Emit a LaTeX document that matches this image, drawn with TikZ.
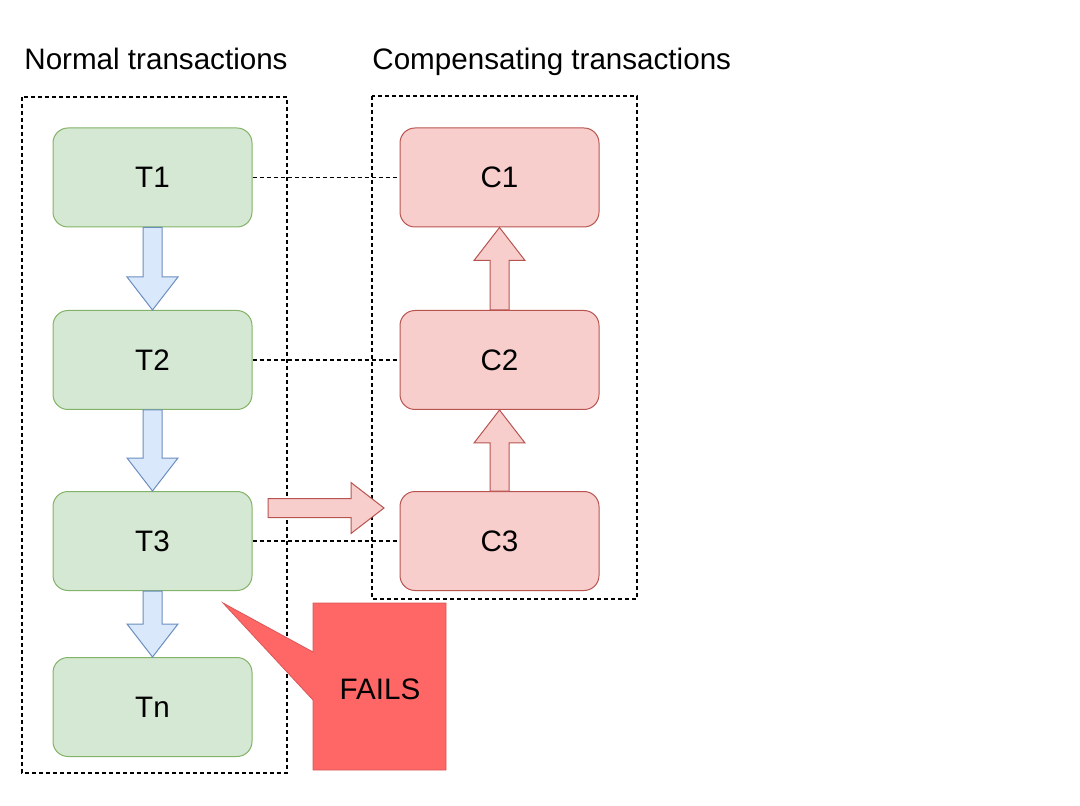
\documentclass[tikz,border=0pt]{standalone}
\usepackage{fontspec}
\setmainfont{Liberation Sans}
\usetikzlibrary{calc}
\definecolor{tfill}{HTML}{D5E8D4}
\definecolor{tline}{HTML}{82B366}
\definecolor{cfill}{HTML}{F8CECC}
\definecolor{cline}{HTML}{B85450}
\definecolor{afill}{HTML}{DAE8FC}
\definecolor{aline}{HTML}{6C8EBF}
\definecolor{failfill}{HTML}{FF6666}
\tikzset{
  tbox/.style={draw=tline, fill=tfill, rounded corners=7.5pt, line width=0.5pt,
    minimum width=99.5pt, minimum height=49.5pt, font=\fontsize{14.8}{17}\selectfont,
    text depth=0pt, text height=10.5pt, yshift=-0pt},
  cbox/.style={tbox, draw=cline, fill=cfill},
  title/.style={anchor=base west, inner sep=0pt, font=\fontsize{14.8}{17}\selectfont},
  groupbox/.style={draw, line width=0.6pt, dash pattern=on 2pt off 1.5pt},
  link/.style={groupbox},
  bluearrow/.style={draw=aline, fill=afill, line width=0.5pt, line join=miter},
  redarrow/.style={draw=cline, fill=cfill, line width=0.5pt, line join=miter}
}
% block arrow: style, from, to
\newcommand\blockarrow[3]{%
  \draw[#1] ($(#2)!4.75pt!90:(#3)$) -- ($($(#3)!16.5pt!(#2)$)!4.75pt!-90:(#2)$)
    -- ($($(#3)!16.5pt!(#2)$)!12.75pt!-90:(#2)$) -- (#3)
    -- ($($(#3)!16.5pt!(#2)$)!12.75pt!90:(#2)$)
    -- ($($(#3)!16.5pt!(#2)$)!4.75pt!90:(#2)$)
    -- ($(#2)!4.75pt!-90:(#3)$) -- cycle;}
\begin{document}
\begin{tikzpicture}[x=0.5pt, y=-0.5pt]
    \useasboundingbox (0,0) rectangle (1080,806);
    \node[title] (normal) at (24,70) {Normal transactions};
    \node[title] (comp) at (372,70) {Compensating transactions};
    \draw[groupbox] (22,97) rectangle (287,773);
    \draw[groupbox] (372,96) rectangle (637,599);

    \node[tbox] (t1) at (152.5,177.5) {T1};
    \node[tbox] (t2) at (152.5,360) {T2};
    \node[tbox] (t3) at (152.5,541) {T3};
    \node[tbox] (tn) at (152.5,707) {Tn};
    \node[cbox] (c1) at (499.5,177.5) {C1};
    \node[cbox] (c2) at (499.5,360) {C2};
    \node[cbox] (c3) at (499.5,541) {C3};

    \draw[link] (t1) -- (c1);
    \draw[link] (t2) -- (c2);
    \draw[link] (t3) -- (c3);

    \blockarrow{bluearrow}{t1.south}{t2.north}
    \blockarrow{bluearrow}{t2.south}{t3.north}
    \blockarrow{bluearrow}{t3.south}{tn.north}
    \blockarrow{redarrow}{c3.north}{c2.south}
    \blockarrow{redarrow}{c2.north}{c1.south}
    \coordinate (fromT) at (268,508);
    \coordinate (toC) at (384,508);
    \blockarrow{redarrow}{fromT}{toC}

    % callout
    \coordinate (tip) at (223,603);
    \draw[fill=failfill, draw=failfill!85!black, line width=0.4pt]
      (313,603) -- (446,603) -- (446,770) -- (313,770) -- (313,700) -- (tip) -- (313,652) -- cycle;
    \node[font=\fontsize{14.8}{17}\selectfont] (fails) at (380,689) {FAILS};
\end{tikzpicture}
\end{document}
